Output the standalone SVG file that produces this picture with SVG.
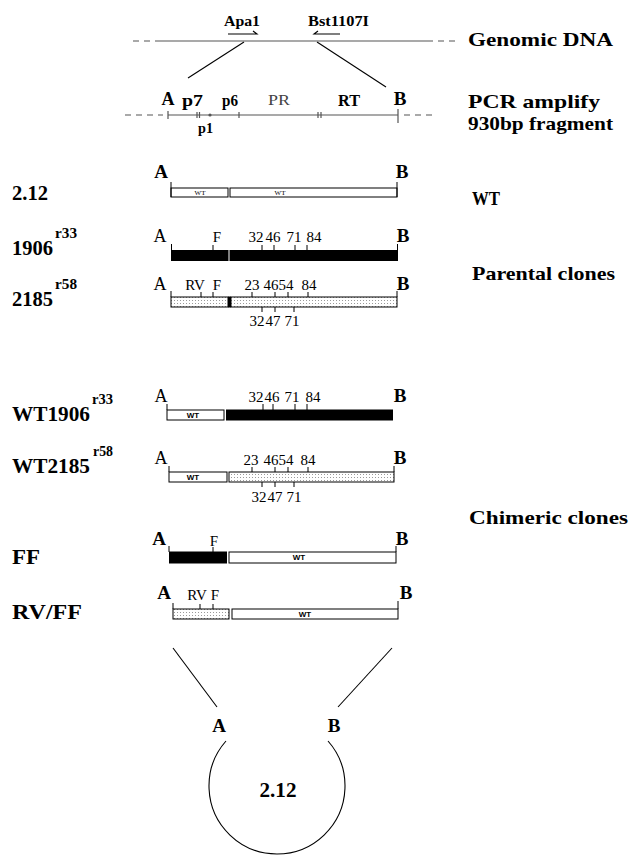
<svg xmlns="http://www.w3.org/2000/svg" width="631" height="855" viewBox="0 0 631 855">
<defs>
<pattern id="dots" width="3" height="3" patternUnits="userSpaceOnUse"><rect width="3" height="3" fill="#fff"/><rect width="1" height="1" fill="#9a9a9a"/></pattern>
</defs>
<style>
text{font-family:"Liberation Serif","Times New Roman",serif;fill:#000}
.lab{font-size:21px;font-weight:bold}
.sup{font-size:14px;font-weight:bold}
.ab{font-size:19px;font-weight:bold}
.ar{font-size:18px}
.num{font-size:15px;text-anchor:middle}
.mid{text-anchor:middle}
.side{font-size:19px;font-weight:bold}
.wtr{font-size:7px;text-anchor:middle}
.wtb{font-size:8px;font-weight:bold;text-anchor:middle;font-family:"Liberation Sans",Arial,sans-serif}
.bx{stroke:#000;stroke-width:1}
.white{fill:#fff}
.black{fill:#000}
.st{fill:url(#dots)}
.tk{stroke:#000;stroke-width:1}
.conn{stroke:#000;stroke-width:1.1;fill:none}
.dna{stroke:#555;stroke-width:1.2;fill:none}
.dash{stroke:#555;stroke-width:1.2;stroke-dasharray:6 5}
</style>

<g id="connectors">
<line class="conn" x1="244" y1="42" x2="188" y2="78"/>
<line class="conn" x1="317" y1="42" x2="386" y2="87"/>
<line class="conn" x1="173" y1="648" x2="217" y2="707"/>
<line class="conn" x1="392" y1="648" x2="338" y2="707"/>
</g>

<g id="genomic">
<line class="dash" x1="133" y1="41" x2="160" y2="41"/>
<line class="dna" x1="160" y1="41" x2="433" y2="41"/>
<line class="dash" x1="438" y1="41" x2="460" y2="41"/>
<text x="224" y="26" font-size="15" font-weight="bold" textLength="36" lengthAdjust="spacingAndGlyphs">Apa1</text>
<path class="conn" d="M228 34 H257 L253 31"/>
<text x="308" y="26" font-size="15" font-weight="bold" textLength="61" lengthAdjust="spacingAndGlyphs">Bst1107I</text>
<path class="conn" d="M340 34 H314 L318 31"/>
<text class="side" x="468" y="46" textLength="145" lengthAdjust="spacingAndGlyphs">Genomic DNA</text>
</g>

<g id="pcr">
<line class="dash" x1="125" y1="115" x2="163" y2="115"/>
<line class="dna" x1="168" y1="115" x2="398" y2="115"/>
<line class="dash" x1="404" y1="115" x2="432" y2="115"/>
<path class="dna" d="M168 111V119M197 112V118M199.5 112V118M239 112V118M318 112V118M321 112V118M398 109V123"/>
<circle cx="210" cy="115" r="1.6" fill="#555"/>
<text class="mid" x="168" y="105" font-size="18" font-weight="bold">A</text>
<text x="182" y="106" font-size="17" font-weight="bold" textLength="21" lengthAdjust="spacingAndGlyphs">p7</text>
<text x="222" y="106" font-size="17" font-weight="bold" textLength="16" lengthAdjust="spacingAndGlyphs">p6</text>
<text x="268" y="105" font-size="15" style="fill:#444" textLength="22" lengthAdjust="spacingAndGlyphs">PR</text>
<text x="338" y="106" font-size="16" font-weight="bold" textLength="22" lengthAdjust="spacingAndGlyphs">RT</text>
<text class="mid" x="400" y="105" font-size="19" font-weight="bold">B</text>
<text x="198" y="133" font-size="14" font-weight="bold" textLength="15" lengthAdjust="spacingAndGlyphs">p1</text>
<text class="side" x="468" y="108" font-size="18" textLength="132" lengthAdjust="spacingAndGlyphs">PCR amplify</text>
<text class="side" x="468" y="130" font-size="18" textLength="145" lengthAdjust="spacingAndGlyphs">930bp fragment</text>
</g>

<g id="row-2-12">
<text class="lab" x="12" y="200" textLength="36" lengthAdjust="spacingAndGlyphs">2.12</text>
<text class="ab mid" x="161" y="178" font-size="20">A</text>
<text class="ab mid" x="402" y="178">B</text>
<rect class="bx white" x="171" y="188" width="57" height="9"/>
<rect class="bx white" x="230" y="188" width="167" height="9"/>
<path class="tk" d="M171 182V197M397 182V197"/>
<text class="wtr" x="200" y="195">WT</text>
<text class="wtr" x="280" y="195">WT</text>
<text class="side" x="472" y="205" font-size="18" textLength="28" lengthAdjust="spacingAndGlyphs">WT</text>
</g>

<g id="row-1906">
<text class="lab" x="12" y="255" textLength="41" lengthAdjust="spacingAndGlyphs">1906</text>
<text class="sup" x="55" y="238" textLength="22" lengthAdjust="spacingAndGlyphs">r33</text>
<text class="ar mid" x="160" y="242">A</text>
<text class="ab mid" x="403" y="242">B</text>
<rect class="black" x="171" y="250" width="57.5" height="11"/>
<rect class="black" x="229.5" y="250" width="168.5" height="11"/>
<path class="tk" d="M171.5 244V250M397.5 244V250M213 245V250M262 245V250M274 245V250M295 245V250M307 245V250"/>
<text class="num" x="217" y="242">F</text>
<text class="num" x="256" y="242">32</text>
<text class="num" x="273" y="242">46</text>
<text class="num" x="294" y="242">71</text>
<text class="num" x="314" y="242">84</text>
</g>

<g id="row-2185">
<text class="lab" x="12" y="306" textLength="41" lengthAdjust="spacingAndGlyphs">2185</text>
<text class="sup" x="55" y="289" textLength="22" lengthAdjust="spacingAndGlyphs">r58</text>
<text class="ar mid" x="160" y="290">A</text>
<text class="ab mid" x="403" y="290">B</text>
<rect class="bx st" x="171" y="297" width="57" height="10"/>
<rect class="black" x="228" y="296.5" width="3" height="11"/>
<rect class="bx st" x="231" y="297" width="166" height="10"/>
<path class="tk" d="M171 291V297M397 291V297M201 292V297M213 292V297M252 292V297M275 292V297M288 292V297M308 292V297M262 307V312M275 307V312M294 307V312"/>
<text class="num" x="195" y="290">RV</text>
<text class="num" x="217" y="290">F</text>
<text class="num" x="252" y="290">23</text>
<text class="num" x="271" y="290">46</text>
<text class="num" x="286" y="290">54</text>
<text class="num" x="309" y="290">84</text>
<text class="num" x="257" y="326">32</text>
<text class="num" x="273" y="326">47</text>
<text class="num" x="292" y="326">71</text>
</g>

<text id="parental" class="side" x="472" y="280" textLength="143" lengthAdjust="spacingAndGlyphs">Parental clones</text>

<g id="row-wt1906">
<text class="lab" x="12" y="421" font-size="22" textLength="78" lengthAdjust="spacingAndGlyphs">WT1906</text>
<text class="sup" x="92" y="404" textLength="21" lengthAdjust="spacingAndGlyphs">r33</text>
<text class="ar mid" x="161" y="402">A</text>
<text class="ab mid" x="400" y="402">B</text>
<rect class="bx white" x="167" y="410" width="57" height="10"/>
<rect class="black" x="226" y="409.5" width="167" height="11"/>
<text class="wtb" x="193" y="418">WT</text>
<path class="tk" d="M167 404V410M263 404V410M273 404V410M295 404V410M307 404V410"/>
<text class="num" x="256" y="402">32</text>
<text class="num" x="272" y="402">46</text>
<text class="num" x="292" y="402">71</text>
<text class="num" x="313" y="402">84</text>
</g>

<g id="row-wt2185">
<text class="lab" x="12" y="473" font-size="22" textLength="78" lengthAdjust="spacingAndGlyphs">WT2185</text>
<text class="sup" x="93" y="456" textLength="20" lengthAdjust="spacingAndGlyphs">r58</text>
<text class="ar mid" x="161" y="464">A</text>
<text class="ab mid" x="400" y="464">B</text>
<rect class="bx white" x="169" y="472" width="58" height="10"/>
<rect class="bx st" x="229" y="472" width="165" height="10"/>
<text class="wtb" x="193" y="480">WT</text>
<path class="tk" d="M169 466V472M394 466V472M252 467V472M275 467V472M288 467V472M308 467V472M262 482V487M275 482V487M294 482V487"/>
<text class="num" x="251" y="465">23</text>
<text class="num" x="271" y="465">46</text>
<text class="num" x="286" y="465">54</text>
<text class="num" x="308" y="465">84</text>
<text class="num" x="259" y="502">32</text>
<text class="num" x="275" y="502">47</text>
<text class="num" x="294" y="502">71</text>
</g>

<text id="chimeric" class="side" x="469" y="524" textLength="159" lengthAdjust="spacingAndGlyphs">Chimeric clones</text>

<g id="row-ff">
<text class="lab" x="12" y="564" textLength="28" lengthAdjust="spacingAndGlyphs">FF</text>
<text class="ab mid" x="159" y="545" font-size="20">A</text>
<text class="ab mid" x="402" y="545">B</text>
<rect class="black" x="169" y="551.5" width="58" height="12"/>
<rect class="bx white" x="229" y="552" width="167" height="11"/>
<text class="wtb" x="299" y="560">WT</text>
<path class="tk" d="M169 546V552M396 546V552M213 547V552"/>
<text class="num" x="214" y="546">F</text>
</g>

<g id="row-rvff">
<text class="lab" x="12" y="619" textLength="70" lengthAdjust="spacingAndGlyphs">RV/FF</text>
<text class="ab mid" x="164" y="599" font-size="20">A</text>
<text class="ab mid" x="406" y="599">B</text>
<rect class="bx st" x="173" y="609" width="56" height="10"/>
<rect class="bx white" x="232" y="609" width="166" height="10"/>
<text class="wtb" x="305" y="617">WT</text>
<path class="tk" d="M173 603V609M398 601V609M200 604V609M213 604V609"/>
<text class="num" x="197" y="600">RV</text>
<text class="num" x="215" y="600">F</text>
</g>

<g id="plasmid">
<text class="ab mid" x="219" y="732">A</text>
<text class="ab mid" x="334" y="732">B</text>
<path class="conn" d="M226 741 A68 68 0 1 0 328 741"/>
<text class="mid" x="278" y="797" font-size="22" font-weight="bold" textLength="37" lengthAdjust="spacingAndGlyphs">2.12</text>
</g>
</svg>
